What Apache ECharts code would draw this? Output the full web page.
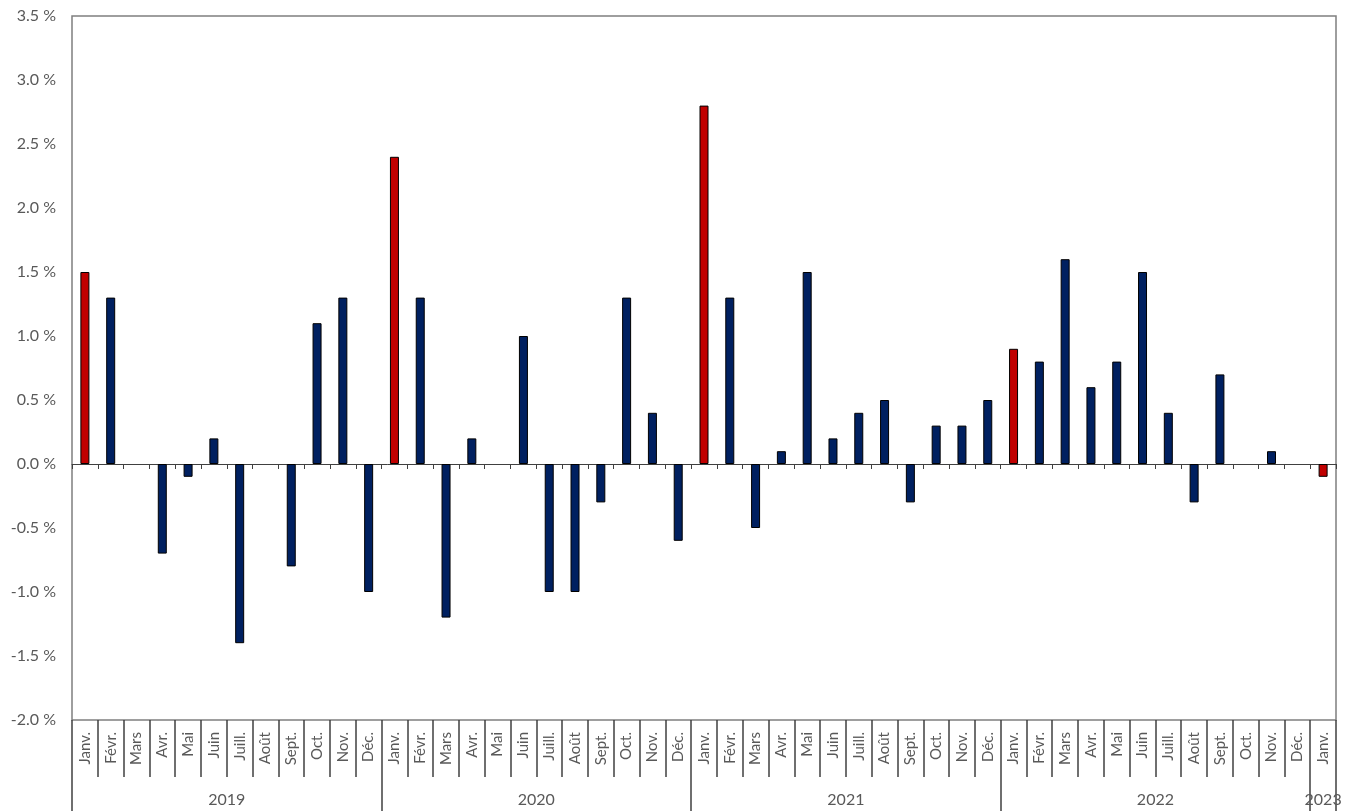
<!DOCTYPE html>
<html>
<head>
<meta charset="utf-8">
<script src="https://cdn.jsdelivr.net/npm/echarts@6/dist/echarts.min.js"></script>
<style>html,body{margin:0;padding:0;background:#fff}#c{width:1348px;height:811px}</style>
</head>
<body>
<div id="c"></div>
<script>
const monthNames = ["Janv.", "Févr.", "Mars", "Avr.", "Mai", "Juin", "Juill.", "Août", "Sept.", "Oct.", "Nov.", "Déc."];
const years = ["2019", "2020", "2021", "2022", "2023"];
const values2019 = [1.5, 1.3, 0, -0.7, -0.1, 0.2, -1.4, 0, -0.8, 1.1, 1.3, -1.0];
const values2020 = [2.4, 1.3, -1.2, 0.2, 0, 1.0, -1.0, -1.0, -0.3, 1.3, 0.4, -0.6];
const values2021 = [2.8, 1.3, -0.5, 0.1, 1.5, 0.2, 0.4, 0.5, -0.3, 0.3, 0.3, 0.5];
const values2022 = [0.9, 0.8, 1.6, 0.6, 0.8, 1.5, 0.4, -0.3, 0.7, 0, 0.1, 0];
const values2023 = [-0.1];
const yTicks = [-2.0, -1.5, -1.0, -0.5, 0.0, 0.5, 1.0, 1.5, 2.0, 2.5, 3.0, 3.5];

const yearValues = [values2019, values2020, values2021, values2022, values2023];
const categories = [];
const monthIdx = [];
const values = [];
const yearStart = [];
yearValues.forEach((arr, yi) => {
  yearStart.push(categories.length);
  arr.forEach((v, mi) => {
    categories.push(years[yi] + "-" + monthNames[mi]);
    monthIdx.push(mi);
    values.push(v);
  });
});
const n = categories.length;
yearStart.push(n);
const halfPts = [];
for (let i = 0; i <= 2 * n; i++) halfPts.push(String(i));
const yearLabelAt = {};
for (let yi = 0; yi < years.length; yi++) {
  yearLabelAt[yearStart[yi] + yearStart[yi + 1]] = years[yi];
}
const yearTickAt = {};
yearStart.forEach(s => { yearTickAt[2 * s] = true; });

const barData = values.map(v => v === 0 ? { value: v, itemStyle: { opacity: 0 } } : v);

const font = "Lato, 'Open Sans', sans-serif";
const txt = '#595959';
const chart = echarts.init(document.getElementById('c'));
chart.setOption({
  animation: false,
  grid: { left: 72, right: 12, top: 16, bottom: 91, show: true, borderColor: '#7f7f7f', borderWidth: 1.5, containLabel: false },
  xAxis: [
    {
      type: 'category', data: categories, position: 'bottom',
      axisLine: { onZero: true, lineStyle: { color: '#404040', width: 1 } },
      axisTick: { show: true, length: 5, interval: 0, lineStyle: { color: '#404040' } },
      axisLabel: { show: false }
    },
    {
      type: 'category', data: categories, position: 'bottom',
      axisLine: { show: false, onZero: false },
      axisTick: { show: true, length: 57, interval: 0, lineStyle: { color: '#404040', width: 1.5 } },
      axisLabel: {
        show: true, interval: 0, rotate: 90, margin: 12,
        formatter: (v, i) => monthNames[monthIdx[i]],
        color: txt, fontFamily: font, fontSize: 15
      }
    },
    {
      type: 'category', data: halfPts, position: 'bottom', boundaryGap: false,
      axisLine: { show: false, onZero: false },
      axisTick: { show: true, length: 91, interval: (i) => !!yearTickAt[i], lineStyle: { color: '#404040', width: 1.5 } },
      axisLabel: {
        show: true, interval: (i) => yearLabelAt[i] !== undefined, margin: 72,
        formatter: (v, i) => yearLabelAt[i] || '',
        color: txt, fontFamily: font, fontSize: 16
      }
    }
  ],
  yAxis: {
    type: 'value', min: yTicks[0], max: yTicks[yTicks.length - 1], interval: 0.5,
    axisLine: { show: false }, axisTick: { show: false }, splitLine: { show: false },
    axisLabel: { formatter: v => v.toFixed(1) + ' %', color: txt, fontFamily: font, fontSize: 16, margin: 16 }
  },
  series: [{
    type: 'bar', xAxisIndex: 0, data: barData, barWidth: 9,
    itemStyle: {
      color: p => monthIdx[p.dataIndex] === 0 ? '#c00000' : '#002060',
      borderColor: '#000', borderWidth: 1
    }
  }]
});
</script>
</body>
</html>
